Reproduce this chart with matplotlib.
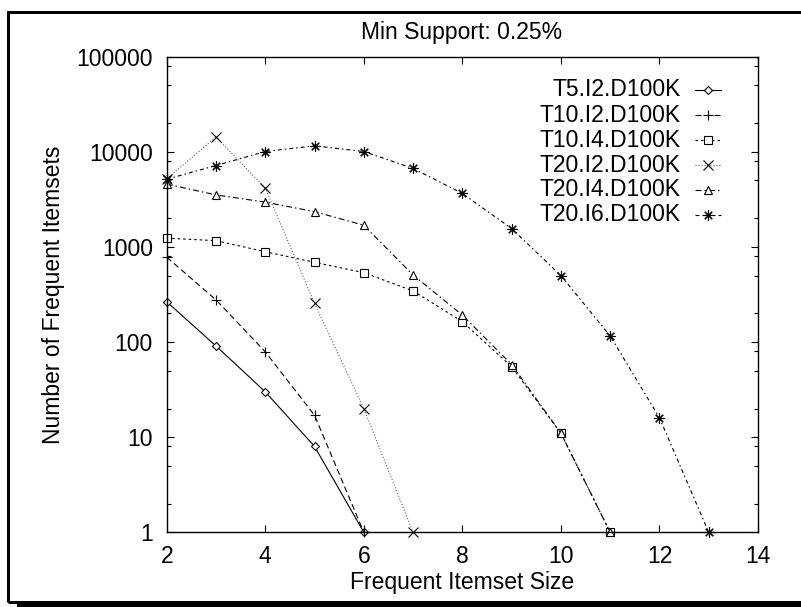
import matplotlib
matplotlib.use("Agg")
import matplotlib.pyplot as plt
from matplotlib.patches import Rectangle
from matplotlib.lines import Line2D
from matplotlib.ticker import FixedLocator, LogLocator, NullFormatter

plt.rcParams['font.family'] = ['Liberation Sans', 'DejaVu Sans']
plt.rcParams['lines.scale_dashes'] = False

# ---- data -------------------------------------------------------------
title = "Min Support: 0.25%"
x_label = "Frequent Itemset Size"
y_label = "Number of Frequent Itemsets"

series_names = ["T5.I2.D100K", "T10.I2.D100K", "T10.I4.D100K",
                "T20.I2.D100K", "T20.I4.D100K", "T20.I6.D100K"]

t5_i2_x = [2, 3, 4, 5, 6]
t5_i2_y = [265, 91, 30, 8, 1]

t10_i2_x = [2, 3, 4, 5, 6]
t10_i2_y = [780, 278, 79, 17, 1]

t10_i4_x = [2, 3, 4, 5, 6, 7, 8, 9, 10, 11]
t10_i4_y = [1235, 1165, 890, 690, 536, 345, 164, 55, 11, 1]

t20_i2_x = [2, 3, 4, 5, 6, 7]
t20_i2_y = [5200, 14300, 4150, 255, 20, 1]

t20_i4_x = [2, 3, 4, 5, 6, 7, 8, 9, 10, 11]
t20_i4_y = [4575, 3525, 2960, 2350, 1690, 507, 192, 58, 11, 1]

t20_i6_x = [2, 3, 4, 5, 6, 7, 8, 9, 10, 11, 12, 13]
t20_i6_y = [5150, 7180, 10070, 11560, 10070, 6700, 3650, 1560, 500, 116, 16, 1]

x_ticks = [2, 4, 6, 8, 10, 12, 14]
y_ticks = [1, 10, 100, 1000, 10000, 100000]
y_tick_labels = ["1", "10", "100", "1000", "10000", "100000"]

# ---- styles -----------------------------------------------------------
PX = 0.72  # points per pixel at 100 dpi
styles = [
    dict(color="black", linestyle="-", marker="D", markersize=3.8,
         markerfacecolor="white"),
    dict(color="black", linestyle=(0, (6 * PX, 3.5 * PX)), marker="+",
         markersize=7),
    dict(color="black", linestyle=(0, (2.5 * PX, 3 * PX)), marker="s",
         markersize=5.5, markerfacecolor="white"),
    dict(color="#555555", linestyle=(0, (1 * PX, 2 * PX)), marker="x",
         markersize=6.5),
    dict(color="black", linestyle=(0, (6 * PX, 3 * PX, 1.5 * PX, 3 * PX)),
         marker="^", markersize=6, markerfacecolor="white"),
    dict(color="black", linestyle=(0, (4 * PX, 3 * PX, 1.5 * PX, 3 * PX)),
         marker=(8, 2, 0), markersize=7.5),
]
series = [(t5_i2_x, t5_i2_y), (t10_i2_x, t10_i2_y), (t10_i4_x, t10_i4_y),
          (t20_i2_x, t20_i2_y), (t20_i4_x, t20_i4_y), (t20_i6_x, t20_i6_y)]

W, H = 801, 607
FS = 16.5

fig = plt.figure(figsize=(W / 100, H / 100), dpi=100)
ax = fig.add_axes([166.7 / W, 1 - 532.3 / H, (758 - 166.7) / W,
                   (532.3 - 56.7) / H])

for (xs, ys), st in zip(series, styles):
    ax.plot(xs, ys, linewidth=0.8, markeredgewidth=0.8, clip_on=False,
            markeredgecolor="black", **st)

ax.set_yscale("log")
ax.set_xlim(2, 14)
ax.set_ylim(1, 100000)
ax.xaxis.set_major_locator(FixedLocator(x_ticks))
ax.set_xticklabels([str(v) for v in x_ticks])
ax.yaxis.set_major_locator(FixedLocator(y_ticks))
ax.set_yticklabels(y_tick_labels)
ax.yaxis.set_minor_locator(LogLocator(base=10, subs=[2, 5, 8]))
ax.yaxis.set_minor_formatter(NullFormatter())

ax.tick_params(which="both", direction="in", top=True, right=True,
               labelsize=FS, width=0.8)
ax.tick_params(which="major", length=5)
ax.tick_params(which="minor", length=3)
ax.tick_params(axis="x", pad=9)
ax.tick_params(axis="y", pad=10)
for sp in ax.spines.values():
    sp.set_linewidth(1.0)

ax.set_xlabel(x_label, fontsize=FS, labelpad=2)
ax.set_ylabel(y_label, fontsize=FS, labelpad=8)

fig.text(462 / W, 1 - 33 / H, title, ha="center", va="center", fontsize=FS)

# legend: label right-aligned, short line sample to its right
for i, (name, st) in enumerate(zip(series_names, styles)):
    yy = 1 - (90 + 25 * i) / H
    fig.text(681 / W, yy, name, ha="right", va="center", fontsize=FS)
    ln = Line2D([695 / W, 721 / W], [yy, yy], transform=fig.transFigure,
                linewidth=0.8, color=st["color"], linestyle=st["linestyle"])
    fig.add_artist(ln)
    mk = Line2D([708 / W], [yy], transform=fig.transFigure, linestyle="none",
                marker=st["marker"], markersize=st["markersize"],
                markerfacecolor=st.get("markerfacecolor", "black"),
                markeredgecolor="black", markeredgewidth=0.8)
    fig.add_artist(mk)

# outer frame with a drop shadow along the bottom
fig.add_artist(Rectangle((7.5 / W, 1 - 601.5 / H), (812 - 7.5) / W,
                         (601.5 - 11.5) / H, transform=fig.transFigure,
                         fill=False, edgecolor="black", linewidth=3 * PX))
fig.add_artist(Rectangle((17 / W, 0), (812 - 17) / W, 5 / H,
                         transform=fig.transFigure, facecolor="black",
                         edgecolor="none"))

fig.savefig("out.png", dpi=100)
